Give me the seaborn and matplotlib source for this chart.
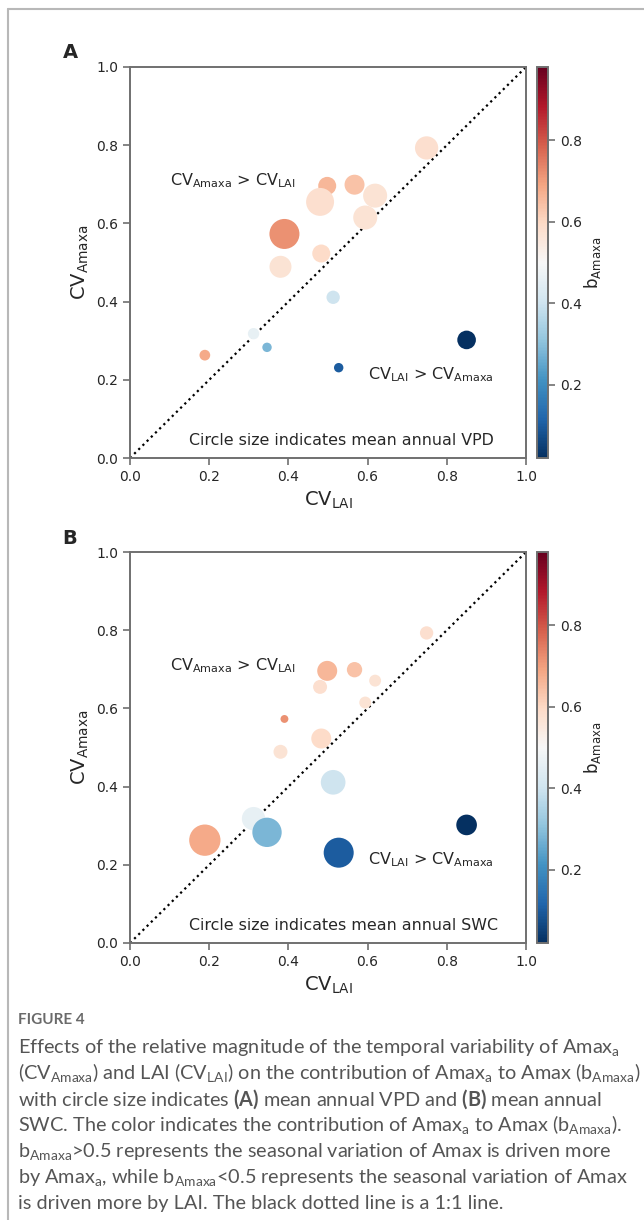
import numpy as np
import pandas as pd
import matplotlib
matplotlib.use("Agg")
import matplotlib.pyplot as plt
import seaborn as sns
from matplotlib.colors import Normalize
from matplotlib.cm import ScalarMappable
from matplotlib.lines import Line2D

# values
cv_lai = [0.749, 0.498, 0.567, 0.619, 0.480, 0.594, 0.390, 0.483, 0.380,
          0.513, 0.312, 0.346, 0.189, 0.527, 0.850]
cv_amaxa = [0.793, 0.696, 0.699, 0.671, 0.655, 0.615, 0.573, 0.523, 0.489,
            0.411, 0.318, 0.283, 0.263, 0.231, 0.302]
b_amaxa = [0.58, 0.66, 0.64, 0.57, 0.58, 0.57, 0.72, 0.59, 0.57,
           0.40, 0.46, 0.28, 0.68, 0.10, 0.02]
vpd = [1.22, 0.73, 0.90, 1.30, 1.76, 1.30, 2.03, 0.73, 1.09,
       0.40, 0.29, 0.20, 0.26, 0.20, 0.78]
swc = [4.0, 9.0, 5.3, 3.2, 4.4, 3.2, 1.4, 9.0, 4.4,
       13.7, 12.3, 19.4, 22.1, 20.3, 9.6]

df = pd.DataFrame({"cv_lai": cv_lai, "cv_amaxa": cv_amaxa, "b": b_amaxa,
                   "vpd": vpd, "swc": swc})

sns.set_style("ticks")
plt.rcParams["font.family"] = ["DejaVu Sans"]
plt.rcParams["mathtext.default"] = "regular"
plt.rcParams["mathtext.fontset"] = "custom"
plt.rcParams["mathtext.rm"] = "Lato"
plt.rcParams["mathtext.it"] = "Lato:italic"
plt.rcParams["mathtext.bf"] = "Lato:bold"

W, H = 644, 1220
fig = plt.figure(figsize=(W / 100, H / 100), dpi=100)

def fx(px):
    return px / W

def fy(py):
    return 1 - py / H

norm = Normalize(0.02, 0.98)
spine_col = "#707070"

panels = [("A", "vpd", 67, "Circle size indicates mean annual VPD"),
          ("B", "swc", 552, "Circle size indicates mean annual SWC")]
k_area = {"vpd": 230, "swc": 23}

for letter, col, top, note in panels:
    h = 391
    ax = fig.add_axes([fx(130), fy(top + h), fx(396), h / H])
    vmax = max(df[col])
    sns.scatterplot(data=df, x="cv_lai", y="cv_amaxa", hue="b", size=col,
                    palette="RdBu_r", hue_norm=norm,
                    sizes=(0, k_area[col] * vmax), size_norm=(0, vmax),
                    edgecolor="none", linewidth=0, legend=False, ax=ax, zorder=3)
    ax.plot([0, 1], [0, 1], color="black", linestyle=":", linewidth=1.6, zorder=2)
    ax.set_xlim(0, 1)
    ax.set_ylim(0, 1)
    ax.set_xticks(np.arange(0, 1.01, 0.2))
    ax.set_yticks(np.arange(0, 1.01, 0.2))
    ax.tick_params(labelsize=10, color=spine_col, width=1.2, length=5)
    for s in ax.spines.values():
        s.set_visible(True)
        s.set_color(spine_col)
        s.set_linewidth(1.4)
    ax.set_xlabel(r"CV$_{\mathrm{LAI}}$", fontsize=14, math_fontfamily="dejavusans")
    ax.set_ylabel(r"CV$_{\mathrm{Amaxa}}$", fontsize=14, math_fontfamily="dejavusans")
    ax.text(0.10, 0.71, r"CV$_{\mathrm{Amaxa}}$ > CV$_{\mathrm{LAI}}$", fontsize=11.5,
            va="center", math_fontfamily="dejavusans")
    ax.text(0.60, 0.213, r"CV$_{\mathrm{LAI}}$ > CV$_{\mathrm{Amaxa}}$", fontsize=11.5,
            va="center", math_fontfamily="dejavusans")
    ax.text(0.15, 0.044, note, fontsize=11.4, va="center")

    cax = fig.add_axes([fx(537), fy(top + h), fx(11), h / H])
    cb = fig.colorbar(ScalarMappable(norm=norm, cmap="RdBu_r"), cax=cax)
    cb.set_ticks([0.2, 0.4, 0.6, 0.8])
    cb.ax.tick_params(labelsize=10, color=spine_col, width=1.2, length=5)
    cb.outline.set_edgecolor(spine_col)
    cb.outline.set_linewidth(1.4)
    cb.set_label(r"b$_{\mathrm{Amaxa}}$", fontsize=12, labelpad=0,
                 math_fontfamily="dejavusans")

    fig.text(fx(70), fy(top - 14), letter, fontsize=14, fontweight="bold",
             ha="center", va="center")

# page frame
fig.add_artist(Line2D([fx(8), fx(8)], [fy(9), 0], color="#b8b8b8", lw=1.5))
fig.add_artist(Line2D([fx(8), 1], [fy(9), fy(9)], color="#b8b8b8", lw=1.5))

# caption
cap_col = "#555555"
fig.text(fx(18), fy(1020), "FIGURE 4", fontsize=11, fontweight="bold",
         color="#6a6a6a", family="Lato", va="center")
caption = [
    r"Effects of the relative magnitude of the temporal variability of Amax$_{a}$",
    r"(CV$_{Amaxa}$) and LAI (CV$_{LAI}$) on the contribution of Amax$_{a}$ to Amax (b$_{Amaxa}$)",
    r"with circle size indicates $\mathbf{(A)}$ mean annual VPD and $\mathbf{(B)}$ mean annual",
    r"SWC. The color indicates the contribution of Amax$_{a}$ to Amax (b$_{Amaxa}$).",
    r"b$_{Amaxa}$>0.5 represents the seasonal variation of Amax is driven more",
    r"by Amax$_{a}$, while b$_{Amaxa}$<0.5 represents the seasonal variation of Amax",
    r"is driven more by LAI. The black dotted line is a 1:1 line.",
]
for i, line in enumerate(caption):
    fig.text(fx(18), fy(1047 + 26 * i), line, fontsize=14.3, color=cap_col,
             family="Lato", va="center", math_fontfamily="custom")

fig.savefig("out.png", dpi=100)
